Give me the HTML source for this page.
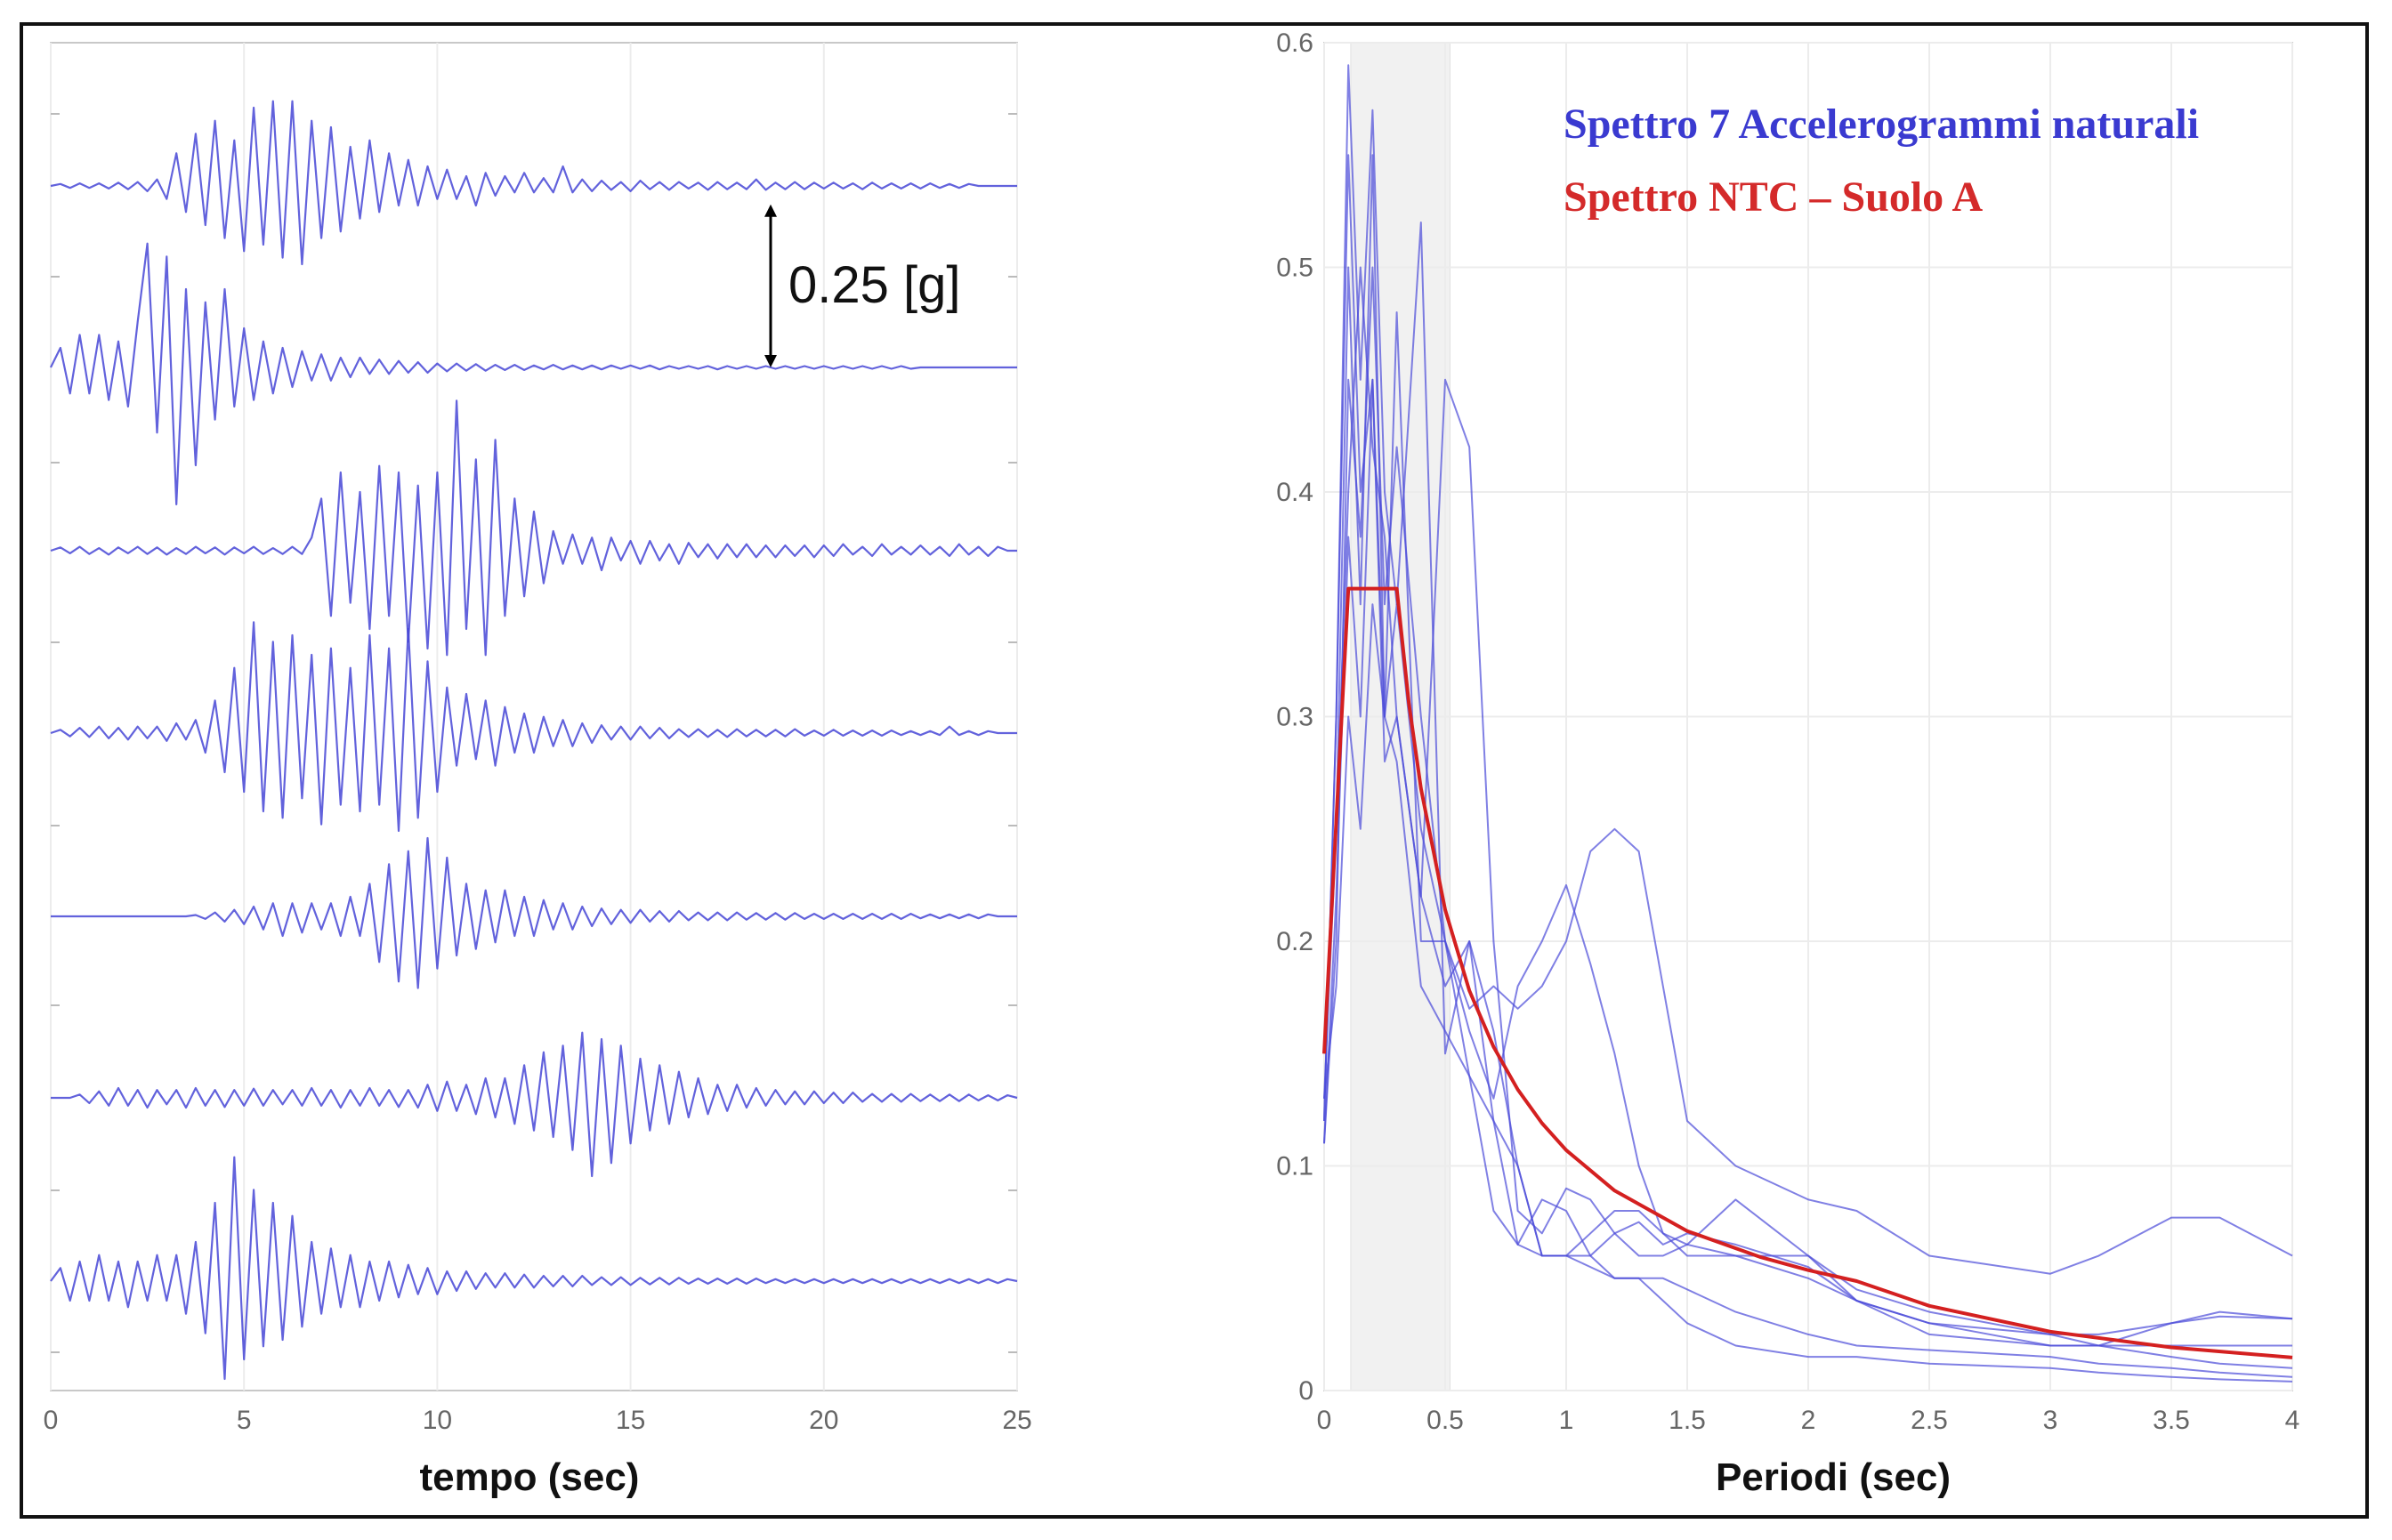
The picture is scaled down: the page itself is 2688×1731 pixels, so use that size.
<!DOCTYPE html>
<html><head><meta charset="utf-8"><style>
html,body{margin:0;padding:0;background:#fff;}
svg{display:block;}
</style></head><body>
<svg id="fig" width="2688" height="1731" viewBox="0 0 2688 1731" xmlns="http://www.w3.org/2000/svg">
<rect x="24" y="27" width="2636" height="1678" fill="#fff" stroke="#111" stroke-width="4"/>
<g id="left"></g>
<g id="right"></g>
</svg>
<script>
// ---- Accelerogram data (g), sampled every 0.25 s ----
const dtSec = 0.25;
const timeTicks = [0,5,10,15,20,25];
const trace1 = [0,0.003,-0.003,0.004,-0.003,0.004,-0.004,0.005,-0.005,0.006,-0.008,0.01,-0.02,0.05,-0.04,0.08,-0.06,0.1,-0.08,0.07,-0.1,0.12,-0.09,0.13,-0.11,0.13,-0.12,0.1,-0.08,0.09,-0.07,0.06,-0.05,0.07,-0.04,0.05,-0.03,0.04,-0.03,0.03,-0.02,0.025,-0.02,0.015,-0.03,0.02,-0.015,0.015,-0.01,0.02,-0.01,0.012,-0.01,0.03,-0.01,0.01,-0.008,0.008,-0.006,0.006,-0.008,0.008,-0.005,0.006,-0.006,0.006,-0.004,0.005,-0.006,0.006,-0.005,0.005,-0.005,0.01,-0.006,0.005,-0.005,0.006,-0.005,0.005,-0.004,0.005,-0.004,0.004,-0.005,0.005,-0.004,0.004,-0.004,0.004,-0.004,0.004,-0.003,0.003,-0.003,0.003,0,0,0,0,0];
const trace2 = [0,0.03,-0.04,0.05,-0.04,0.05,-0.05,0.04,-0.06,0.07,0.19,-0.1,0.17,-0.21,0.12,-0.15,0.1,-0.08,0.12,-0.06,0.06,-0.05,0.04,-0.04,0.03,-0.03,0.025,-0.02,0.02,-0.02,0.015,-0.015,0.015,-0.01,0.012,-0.01,0.01,-0.008,0.008,-0.008,0.006,-0.006,0.006,-0.005,0.005,-0.005,0.004,-0.004,0.004,-0.004,0.003,-0.003,0.004,-0.003,0.003,-0.003,0.003,-0.003,0.003,-0.002,0.003,-0.002,0.003,-0.003,0.002,-0.002,0.002,-0.002,0.002,-0.003,0.002,-0.002,0.002,-0.002,0.002,-0.002,0.002,-0.002,0.002,-0.002,0.002,-0.002,0.002,-0.002,0.002,-0.002,0.002,-0.002,0.002,-0.002,0,0,0,0,0,0,0,0,0,0,0];
const trace3 = [0,0.005,-0.004,0.006,-0.005,0.004,-0.006,0.005,-0.004,0.006,-0.005,0.005,-0.006,0.004,-0.005,0.006,-0.004,0.005,-0.006,0.005,-0.004,0.006,-0.005,0.004,-0.005,0.006,-0.005,0.02,0.08,-0.1,0.12,-0.08,0.09,-0.12,0.13,-0.1,0.12,-0.14,0.1,-0.15,0.12,-0.16,0.23,-0.12,0.14,-0.16,0.17,-0.1,0.08,-0.07,0.06,-0.05,0.03,-0.02,0.025,-0.02,0.02,-0.03,0.02,-0.015,0.015,-0.02,0.015,-0.015,0.01,-0.02,0.012,-0.01,0.01,-0.012,0.01,-0.01,0.01,-0.01,0.008,-0.01,0.008,-0.008,0.008,-0.01,0.008,-0.008,0.01,-0.006,0.006,-0.008,0.01,-0.006,0.006,-0.006,0.008,-0.006,0.006,-0.008,0.01,-0.006,0.006,-0.008,0.006,0];
const trace4 = [0,0.005,-0.005,0.008,-0.006,0.01,-0.008,0.008,-0.01,0.01,-0.008,0.01,-0.012,0.015,-0.01,0.02,-0.03,0.05,-0.06,0.1,-0.09,0.17,-0.12,0.14,-0.13,0.15,-0.1,0.12,-0.14,0.13,-0.11,0.1,-0.12,0.15,-0.11,0.13,-0.15,0.16,-0.13,0.11,-0.09,0.07,-0.05,0.06,-0.04,0.05,-0.05,0.04,-0.03,0.03,-0.03,0.025,-0.02,0.02,-0.02,0.015,-0.015,0.012,-0.01,0.01,-0.01,0.01,-0.008,0.008,-0.008,0.006,-0.006,0.006,-0.006,0.005,-0.006,0.006,-0.005,0.005,-0.005,0.005,-0.005,0.006,-0.004,0.004,-0.004,0.005,-0.004,0.004,-0.004,0.004,-0.004,0.004,-0.003,0.003,-0.003,0.003,-0.003,0.01,-0.003,0.003,-0.003,0.003,0,0,0];
const trace5 = [0,0,0,0,0,0,0,0,0,0,0,0,0,0,0,0.002,-0.004,0.006,-0.008,0.01,-0.012,0.015,-0.02,0.02,-0.03,0.02,-0.025,0.02,-0.02,0.02,-0.03,0.03,-0.03,0.05,-0.07,0.08,-0.1,0.1,-0.11,0.12,-0.08,0.09,-0.06,0.05,-0.05,0.04,-0.04,0.04,-0.03,0.03,-0.03,0.025,-0.02,0.02,-0.02,0.015,-0.015,0.012,-0.012,0.01,-0.01,0.01,-0.008,0.008,-0.008,0.008,-0.006,0.006,-0.006,0.006,-0.006,0.006,-0.005,0.005,-0.005,0.005,-0.005,0.005,-0.004,0.004,-0.004,0.004,-0.004,0.004,-0.004,0.004,-0.004,0.004,-0.004,0.004,-0.003,0.003,-0.003,0.003,-0.003,0.003,-0.003,0.003,0,0,0];
const trace6 = [0,0,0,0.005,-0.008,0.01,-0.012,0.015,-0.012,0.012,-0.015,0.012,-0.01,0.012,-0.015,0.015,-0.012,0.012,-0.014,0.012,-0.012,0.014,-0.012,0.012,-0.01,0.012,-0.012,0.015,-0.012,0.012,-0.015,0.012,-0.012,0.015,-0.012,0.012,-0.014,0.012,-0.015,0.02,-0.02,0.025,-0.02,0.02,-0.025,0.03,-0.03,0.03,-0.04,0.05,-0.05,0.07,-0.06,0.08,-0.08,0.1,-0.12,0.09,-0.1,0.08,-0.07,0.06,-0.05,0.05,-0.04,0.04,-0.03,0.03,-0.025,0.02,-0.02,0.02,-0.015,0.015,-0.012,0.012,-0.01,0.01,-0.01,0.01,-0.008,0.008,-0.008,0.008,-0.006,0.006,-0.006,0.006,-0.006,0.006,-0.005,0.005,-0.005,0.005,-0.005,0.005,-0.004,0.004,-0.004,0.004,0];
const trace7 = [0,0.02,-0.03,0.03,-0.03,0.04,-0.03,0.03,-0.04,0.03,-0.03,0.04,-0.03,0.04,-0.05,0.06,-0.08,0.12,-0.15,0.19,-0.12,0.14,-0.1,0.12,-0.09,0.1,-0.07,0.06,-0.05,0.05,-0.04,0.04,-0.04,0.03,-0.03,0.03,-0.025,0.025,-0.02,0.02,-0.02,0.015,-0.015,0.015,-0.012,0.012,-0.01,0.012,-0.01,0.01,-0.01,0.008,-0.008,0.008,-0.008,0.008,-0.006,0.006,-0.006,0.006,-0.006,0.005,-0.005,0.005,-0.005,0.005,-0.004,0.004,-0.004,0.004,-0.004,0.004,-0.004,0.004,-0.003,0.003,-0.003,0.003,-0.003,0.003,-0.003,0.003,-0.003,0.003,-0.003,0.003,-0.003,0.003,-0.003,0.003,-0.003,0.003,-0.003,0.003,-0.003,0.003,-0.003,0.003,-0.003,0.003,0];
const traces = [trace1,trace2,trace3,trace4,trace5,trace6,trace7];
const scaleBarG = 0.25;

// ---- Spectrum data ----
const periods = [0,0.05,0.1,0.15,0.2,0.25,0.3,0.4,0.5,0.6,0.7,0.8,0.9,1.0,1.1,1.2,1.3,1.4,1.5,1.7,2,2.2,2.5,3,3.2,3.5,3.7,4];
const spec1 = [0.11,0.2,0.45,0.38,0.5,0.35,0.42,0.3,0.2,0.17,0.18,0.17,0.18,0.2,0.24,0.25,0.24,0.18,0.12,0.1,0.085,0.08,0.06,0.052,0.06,0.077,0.077,0.06];
const spec2 = [0.12,0.3,0.55,0.4,0.45,0.3,0.35,0.25,0.2,0.16,0.13,0.18,0.2,0.225,0.19,0.15,0.1,0.07,0.065,0.06,0.05,0.04,0.03,0.025,0.02,0.015,0.012,0.01];
const spec3 = [0.13,0.25,0.4,0.5,0.42,0.38,0.3,0.22,0.45,0.42,0.2,0.08,0.07,0.09,0.085,0.07,0.06,0.06,0.065,0.085,0.06,0.04,0.03,0.02,0.02,0.02,0.02,0.02];
const spec4 = [0.12,0.3,0.59,0.45,0.57,0.4,0.35,0.52,0.15,0.2,0.12,0.065,0.06,0.06,0.06,0.07,0.075,0.065,0.07,0.065,0.055,0.04,0.025,0.02,0.02,0.03,0.033,0.032];
const spec5 = [0.15,0.25,0.5,0.35,0.55,0.3,0.48,0.2,0.2,0.14,0.08,0.065,0.085,0.08,0.06,0.05,0.05,0.04,0.03,0.02,0.015,0.015,0.012,0.01,0.008,0.006,0.005,0.004];
const spec6 = [0.11,0.22,0.38,0.3,0.45,0.28,0.3,0.22,0.18,0.2,0.16,0.1,0.06,0.06,0.07,0.08,0.08,0.07,0.06,0.06,0.06,0.045,0.035,0.025,0.025,0.03,0.035,0.032];
const spec7 = [0.13,0.18,0.3,0.25,0.35,0.3,0.28,0.18,0.16,0.14,0.12,0.1,0.06,0.06,0.055,0.05,0.05,0.05,0.045,0.035,0.025,0.02,0.018,0.015,0.012,0.01,0.008,0.006];
const spectra = [spec1,spec2,spec3,spec4,spec5,spec6,spec7];
const ntcPeriods = [0,0.1,0.3,0.35,0.4,0.5,0.6,0.7,0.8,0.9,1,1.2,1.5,1.8,2,2.2,2.5,3,3.5,4];
const ntcValues = [0.15,0.357,0.357,0.306,0.268,0.214,0.178,0.153,0.134,0.119,0.107,0.089,0.071,0.0595,0.0536,0.0487,0.0377,0.0262,0.0192,0.0147];
const shadeRange = [0.11,0.52];
const periodTicks = [0,0.5,1,1.5,2,2.5,3,3.5,4];
const periodTickLabels = ["0","0.5","1","1.5","2","2.5","3","3.5","4"];
const saTicks = [0,0.1,0.2,0.3,0.4,0.5,0.6];
const saTickLabels = ["0","0.1","0.2","0.3","0.4","0.5","0.6"];

const NS = "http://www.w3.org/2000/svg";
function mk(parent, tag, attrs, text){
  const e = document.createElementNS(NS, tag);
  for (const k in attrs) e.setAttribute(k, attrs[k]);
  if (text !== undefined) e.textContent = text;
  parent.appendChild(e);
  return e;
}

// ---------- Left panel ----------
const L = document.getElementById('left');
const lx0=57, lx1=1143, ly0=48, ly1=1563;
const xT = t => lx0 + (t/25)*(lx1-lx0);
const gPerPx = 733;
const baselines = [209,413,619,824,1030,1234,1440];
let e;
e = mk(L,'rect',{x:lx0,y:ly0,width:lx1-lx0,height:ly1-ly0,fill:'#fff',stroke:'#c8c8c8','stroke-width':2});


timeTicks.forEach(t=>{
  const g = mk(L,'line',{x1:xT(t),x2:xT(t),y1:ly0,y2:ly1,stroke:'#ececec','stroke-width':2});
  
  
  const lb = mk(L,'text',{x:xT(t),y:1606,'text-anchor':'middle','font-family':'Liberation Sans, sans-serif','font-size':30,fill:'#666'}, String(t));
  
  
});
[128,311,520,722,928,1130,1338,1520].forEach(y=>{
  mk(L,'line',{x1:lx0,x2:lx0+10,y1:y,y2:y,stroke:'#bbb','stroke-width':2});
  mk(L,'line',{x1:lx1-10,x2:lx1,y1:y,y2:y,stroke:'#bbb','stroke-width':2});
});
traces.forEach((tr,k)=>{
  const b = baselines[k];
  let d = '';
  tr.forEach((v,i)=>{ d += (i?'L':'M') + xT(i*dtSec).toFixed(1) + ' ' + (b - v*gPerPx).toFixed(1); });
  d += 'L' + xT(25) + ' ' + b;
  const p = mk(L,'path',{d:d,fill:'none',stroke:'#4747d6','stroke-width':2.2,'stroke-linejoin':'round','stroke-opacity':0.85});
  
  
});
const sbX = 866, sbBottom = baselines[1], sbTop = baselines[1]-scaleBarG*gPerPx;
e = mk(L,'g',{});


mk(e,'line',{x1:sbX,x2:sbX,y1:sbTop+10,y2:sbBottom-10,stroke:'#000','stroke-width':3});
mk(e,'polygon',{points:`${sbX},${sbTop} ${sbX-7},${sbTop+14} ${sbX+7},${sbTop+14}`,fill:'#000'});
mk(e,'polygon',{points:`${sbX},${sbBottom} ${sbX-7},${sbBottom-14} ${sbX+7},${sbBottom-14}`,fill:'#000'});
const sbl = mk(L,'text',{x:886,y:340,'font-family':'Liberation Sans, sans-serif','font-size':58,fill:'#111'},'0.25 [g]');


const xl = mk(L,'text',{x:595,y:1675,'text-anchor':'middle','font-family':'Liberation Sans, sans-serif','font-size':44,'font-weight':'bold',fill:'#111'},'tempo (sec)');



// ---------- Right panel ----------
const R = document.getElementById('right');
const rx0=1488, rx1=2576, ry0=48, ry1=1563;
const xP = T => rx0 + (T/4)*(rx1-rx0);
const yS = v => ry1 - (v/0.6)*(ry1-ry0);
e = mk(R,'rect',{x:rx0,y:ry0,width:rx1-rx0,height:ry1-ry0,fill:'#fff',stroke:'#c8c8c8','stroke-width':2});


e = mk(R,'rect',{x:xP(shadeRange[0]),y:ry0,width:xP(shadeRange[1])-xP(shadeRange[0]),height:ry1-ry0,fill:'#f1f1f1',stroke:'#e0e0e0','stroke-width':1});


periodTicks.forEach((T,i)=>{
  const g = mk(R,'line',{x1:xP(T),x2:xP(T),y1:ry0,y2:ry1,stroke:'#ececec','stroke-width':2});
  
  
  const lb = mk(R,'text',{x:xP(T),y:1606,'text-anchor':'middle','font-family':'Liberation Sans, sans-serif','font-size':30,fill:'#666'},periodTickLabels[i]);
  
  
});
saTicks.forEach((v,i)=>{
  const g = mk(R,'line',{x1:rx0,x2:rx1,y1:yS(v),y2:yS(v),stroke:'#ececec','stroke-width':2});
  
  
  const lb = mk(R,'text',{x:rx0-12,y:yS(v)+10,'text-anchor':'end','font-family':'Liberation Sans, sans-serif','font-size':30,fill:'#666'},saTickLabels[i]);
  
  
});
spectra.forEach((s,k)=>{
  let d='';
  s.forEach((v,i)=>{ d += (i?'L':'M') + xP(periods[i]).toFixed(1)+' '+yS(v).toFixed(1); });
  const p = mk(R,'path',{d:d,fill:'none',stroke:'#4a4ad8','stroke-width':2,'stroke-opacity':0.7,'stroke-linejoin':'round'});
  
  
});
let dn='';
ntcPeriods.forEach((T,i)=>{ dn += (i?'L':'M') + xP(T).toFixed(1)+' '+yS(ntcValues[i]).toFixed(1); });
e = mk(R,'path',{d:dn,fill:'none',stroke:'#d42020','stroke-width':4,'stroke-linejoin':'round'});


e = mk(R,'text',{x:1757,y:155,'font-family':'Liberation Serif, serif','font-size':48,'font-weight':'bold',fill:'#3a3ad0'},'Spettro 7 Accelerogrammi naturali');


e = mk(R,'text',{x:1757,y:237,'font-family':'Liberation Serif, serif','font-size':48,'font-weight':'bold',fill:'#d42a2a'},'Spettro NTC – Suolo A');


e = mk(R,'text',{x:2060,y:1675,'text-anchor':'middle','font-family':'Liberation Sans, sans-serif','font-size':44,'font-weight':'bold',fill:'#111'},'Periodi (sec)');


</script>
</body></html>
